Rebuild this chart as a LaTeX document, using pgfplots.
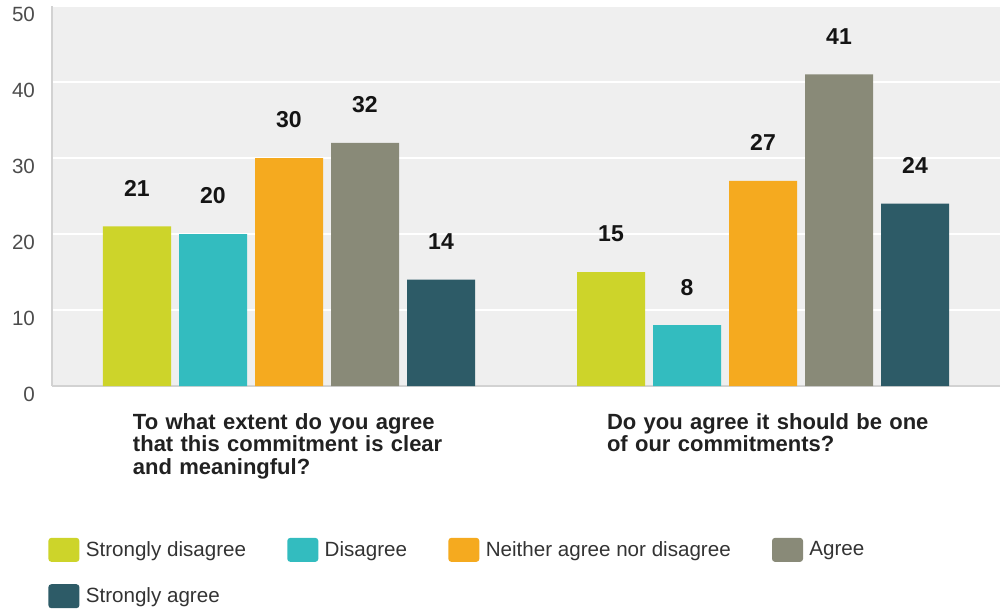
\documentclass[border=0pt]{standalone}
\usepackage{fontspec}
\setmainfont{Liberation Sans}
\usepackage{pgfplots}
\pgfplotsset{compat=1.18}
\definecolor{c1}{HTML}{CDD42A}
\definecolor{c2}{HTML}{33BCBF}
\definecolor{c3}{HTML}{F5AA1F}
\definecolor{c4}{HTML}{898A78}
\definecolor{c5}{HTML}{2D5B67}
\definecolor{bg}{HTML}{EFEFEF}
\definecolor{axgray}{HTML}{D2D2D2}
\pgfplotsset{
  swatch/.style={legend image code/.code={\fill[##1, draw=none, rounded corners=1.5pt] (0pt,-5.75pt) rectangle (15.5pt,6.25pt);}}
}
\begin{document}
\begin{tikzpicture}
\begin{axis}[
 at={(0,0)}, anchor=south west,
 width=474pt, height=190pt, scale only axis,
 xmin=0.5, xmax=2.5, ymin=0, ymax=50,
 ybar=4pt, bar width=34pt,
 axis background/.style={fill=bg},
 axis x line*=bottom, axis y line*=left,
 axis line style={draw=axgray, line width=1pt},
 ymajorgrids, grid style={draw=white, line width=1pt},
 ytick={0,10,...,50},
 xtick={1,2},
 xticklabels={{To what extent do you agree\\that this commitment is clear\\and meaningful?},{Do you agree it should be one\\of our commitments?}},
 major tick length=0pt,
 xtick style={draw=none}, ytick style={draw=none},
 /pgf/number format/assume math mode=true,
 yticklabel style={font=\fontsize{10.3}{12}\selectfont, text=black!70, xshift=-5pt, yshift=-4pt},
 xticklabel style={font=\bfseries\fontsize{11}{11.25}\selectfont, text=black!87, text width=180pt, align=left, xshift=12pt, yshift=-10pt},
 nodes near coords,
 every node near coord/.append style={font=\bfseries\fontsize{11.5}{12}\selectfont, anchor=center, yshift=19pt, text=black!92},
 legend columns=4,
 legend cell align=left,
 legend style={at={(0,0)}, anchor=north west, xshift=-2pt, yshift=-75.5pt,
   draw=none, fill=none, inner sep=0pt, row sep=10.2pt,
   font=\fontsize{10.3}{12}\selectfont, text=black!80,
   /tikz/every odd column/.append style={column sep=1.2pt},
   /tikz/every even column/.append style={column sep=18.6pt}},
]
\addplot[fill=c1, draw=none, swatch] coordinates {(1,21) (2,15)};
\addplot[fill=c2, draw=none, swatch] coordinates {(1,20) (2,8)};
\addplot[fill=c3, draw=none, swatch] coordinates {(1,30) (2,27)};
\addplot[fill=c4, draw=none, swatch] coordinates {(1,32) (2,41)};
\addplot[fill=c5, draw=none, swatch] coordinates {(1,14) (2,24)};
\legend{Strongly disagree, Disagree, Neither agree nor disagree, Agree, Strongly agree}
\end{axis}
\pgfresetboundingbox
\path ([xshift=-26pt,yshift=-112pt]current axis.south west) rectangle ([yshift=3pt]current axis.north east);
\end{tikzpicture}
\end{document}
